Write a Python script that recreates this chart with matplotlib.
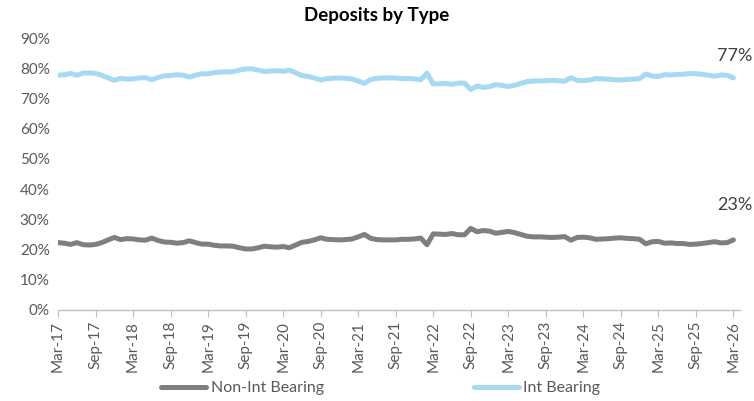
import matplotlib
matplotlib.use("Agg")
import matplotlib.pyplot as plt
import numpy as np

plt.rcParams['font.family'] = ['Lato', 'DejaVu Sans']

# Monthly data, Mar-17 .. Mar-26 (109 months), percent of deposits
int_bearing = [
    77.7, 77.9, 78.3, 77.7, 78.4, 78.5, 78.3, 77.7, 76.8, 76.0,
    76.7, 76.4, 76.5, 76.8, 76.9, 76.2, 77.0, 77.5, 77.6, 77.9,
    77.7, 77.1, 77.7, 78.2, 78.2, 78.6, 78.8, 78.8, 78.9, 79.4,
    79.8, 79.8, 79.4, 78.9, 79.1, 79.2, 79.0, 79.4, 78.5, 77.6,
    77.3, 76.8, 76.1, 76.6, 76.7, 76.8, 76.7, 76.5, 75.8, 75.0,
    76.3, 76.7, 76.8, 76.8, 76.8, 76.6, 76.6, 76.5, 76.2, 78.4,
    74.8, 74.9, 75.0, 74.7, 75.1, 75.1, 73.0, 74.1, 73.7, 73.9,
    74.6, 74.3, 74.0, 74.4, 75.0, 75.6, 75.8, 75.8, 75.9, 76.0,
    75.9, 75.7, 76.9, 76.0, 75.9, 76.1, 76.6, 76.5, 76.4, 76.2,
    76.1, 76.3, 76.4, 76.6, 78.1, 77.4, 77.3, 77.9, 77.8, 78.0,
    78.0, 78.3, 78.2, 78.0, 77.7, 77.4, 77.8, 77.7, 76.8,
]
non_int_bearing = [
    22.3, 22.1, 21.7, 22.3, 21.6, 21.5, 21.7, 22.3, 23.2, 24.0,
    23.3, 23.6, 23.5, 23.2, 23.1, 23.8, 23.0, 22.5, 22.4, 22.1,
    22.3, 22.9, 22.3, 21.8, 21.8, 21.4, 21.2, 21.2, 21.1, 20.6,
    20.2, 20.2, 20.6, 21.1, 20.9, 20.8, 21.0, 20.6, 21.5, 22.4,
    22.7, 23.2, 23.9, 23.4, 23.3, 23.2, 23.3, 23.5, 24.2, 25.0,
    23.7, 23.3, 23.2, 23.2, 23.2, 23.4, 23.4, 23.5, 23.8, 21.6,
    25.2, 25.1, 25.0, 25.3, 24.9, 24.9, 27.0, 25.9, 26.3, 26.1,
    25.4, 25.7, 26.0, 25.6, 25.0, 24.4, 24.2, 24.2, 24.1, 24.0,
    24.1, 24.3, 23.1, 24.0, 24.1, 23.9, 23.4, 23.5, 23.6, 23.8,
    23.9, 23.7, 23.6, 23.4, 21.9, 22.6, 22.7, 22.1, 22.2, 22.0,
    22.0, 21.7, 21.8, 22.0, 22.3, 22.6, 22.2, 22.3, 23.2,
]
tick_labels = ["Mar-17", "Sep-17", "Mar-18", "Sep-18", "Mar-19", "Sep-19",
               "Mar-20", "Sep-20", "Mar-21", "Sep-21", "Mar-22", "Sep-22",
               "Mar-23", "Sep-23", "Mar-24", "Sep-24", "Mar-25", "Sep-25",
               "Mar-26"]
end_labels = ["23%", "77%"]
series_names = ["Non-Int Bearing", "Int Bearing"]

x = np.arange(len(int_bearing))

fig = plt.figure(figsize=(7.54, 4.01), dpi=100)
ax = fig.add_axes([0.077, 0.227, 0.904, 0.678])

c_non = "#7F7F7F"
c_int = "#A6D9F4"
l1, = ax.plot(x, non_int_bearing, color=c_non, lw=3.6, solid_capstyle='round',
              solid_joinstyle='round', label=series_names[0])
l2, = ax.plot(x, int_bearing, color=c_int, lw=3.6, solid_capstyle='round',
              solid_joinstyle='round', label=series_names[1])

ax.set_ylim(0, 90)
ax.set_yticks(np.arange(0, 91, 10))
ax.set_yticklabels([f"{v}%" for v in range(0, 91, 10)])
ax.set_xlim(0, 109)
ax.set_xticks(np.arange(0, 109, 6))
ax.set_xticklabels(tick_labels, rotation=90)

for s in ["top", "right", "left"]:
    ax.spines[s].set_visible(False)
ax.spines["bottom"].set_color("#BFBFBF")
ax.spines["bottom"].set_linewidth(1)
ax.tick_params(axis='y', length=0, labelsize=11, labelcolor="#595959", pad=6)
ax.tick_params(axis='x', length=5, color="#BFBFBF", labelsize=11,
               labelcolor="#595959", pad=3)

ax.text(x[-1] + 3, non_int_bearing[-1] + 11.5, end_labels[0], ha='right',
        va='center', fontsize=13, color="#404040", clip_on=False)
ax.text(x[-1] + 3, int_bearing[-1] + 7.2, end_labels[1], ha='right',
        va='center', fontsize=13, color="#404040", clip_on=False)

fig.text(0.5, 0.962, "Deposits by Type", ha='center', va='center',
         fontsize=13.5, fontweight='bold', color="black")

fig.legend(handles=[l1, l2], loc='center', bbox_to_anchor=(0.505, 0.032),
           ncol=2, frameon=False, fontsize=11.5, handlelength=2.8,
           handletextpad=0.3, columnspacing=9.4, labelcolor="#595959")

fig.savefig("out.png", dpi=100)
